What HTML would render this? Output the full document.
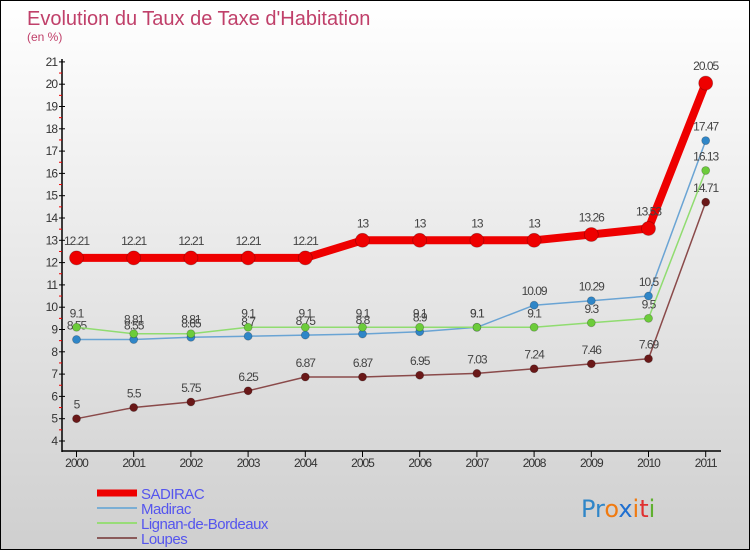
<!DOCTYPE html>
<html><head><meta charset="utf-8"><style>
html,body{margin:0;padding:0}
body{width:750px;height:550px;overflow:hidden;font-family:"Liberation Sans",sans-serif}
#wrap{position:relative;width:748px;height:548px;border:1px solid #000;background:linear-gradient(#ffffff,#cfcfcf)}
svg{position:absolute;left:0;top:0}
</style></head><body>
<div id="wrap">
<svg id="chart" width="750" height="550">
<text x="26" y="24" font-size="20" fill="#c0406a">Evolution du Taux de Taxe d'Habitation</text>
<text x="26" y="40" font-size="12" fill="#c0406a">(en %)</text>
</svg>
</div>
<script>
const years=['2000','2001','2002','2003','2004','2005','2006','2007','2008','2009','2010','2011'];
const sadirac=[12.21,12.21,12.21,12.21,12.21,13,13,13,13,13.26,13.53,20.05];
const madirac=[8.55,8.55,8.65,8.7,8.75,8.8,8.9,9.1,10.09,10.29,10.5,17.47];
const lignan=[9.1,8.81,8.81,9.1,9.1,9.1,9.1,9.1,9.1,9.3,9.5,16.13];
const loupes=[5,5.5,5.75,6.25,6.87,6.87,6.95,7.03,7.24,7.46,7.69,14.71];
const yTicks=[4,5,6,7,8,9,10,11,12,13,14,15,16,17,18,19,20,21];
const NS='http://www.w3.org/2000/svg';
const svg=document.getElementById('chart');
const X=i=>75.5+i*57.2;
const Y=v=>440-(v-4)*22.3;
function mk(t,a,p){const e=document.createElementNS(NS,t);for(const k in a)e.setAttribute(k,a[k]);(p||svg).appendChild(e);return e;}
const ax=mk('g',{});


mk('line',{x1:61,y1:58,x2:61,y2:451,stroke:'#000','stroke-width':1.5},ax);
mk('line',{x1:61,y1:450,x2:720,y2:450,stroke:'#000','stroke-width':1.5},ax);
yTicks.forEach(v=>{
  mk('line',{x1:58,y1:Y(v),x2:64,y2:Y(v),stroke:'#000'},ax);
  if(v<21)mk('line',{x1:58,y1:Y(v+0.5),x2:61,y2:Y(v+0.5),stroke:'#e00'},ax);
  const t=mk('text',{x:56,y:Y(v)+4,'text-anchor':'end','font-size':12,fill:'#333','letter-spacing':'-1'},ax);
  t.textContent=v;
  
  
});
years.forEach((y,i)=>{
  mk('line',{x1:X(i),y1:450,x2:X(i),y2:456,stroke:'#000'},ax);
  const t=mk('text',{x:X(i),y:466,'text-anchor':'middle','font-size':12,fill:'#333','letter-spacing':'-1'},ax);
  t.textContent=y;
  
  
});
function series(name,data,color,dot,w,r){
  const g=mk('g',{});
  
  
  mk('polyline',{points:data.map((v,i)=>X(i)+','+Y(v)).join(' '),fill:'none',stroke:color,'stroke-width':w,'stroke-linejoin':'round'},g);
  data.forEach((v,i)=>{
    const c=mk('circle',{cx:X(i),cy:Y(v),r:r,fill:dot,stroke:'rgba(0,0,0,0.25)','stroke-width':0.8},g);
    
    
    const t=mk('text',{x:X(i),y:Y(v)-(r+6),'text-anchor':'middle','font-size':12,fill:'#444','letter-spacing':'-1'},g);
    t.textContent=v;
    
    
  });
}
series('loupes',loupes,'#8a4a4a','#6a1818',1.5,4);
series('madirac',madirac,'#6aa4d4','#2f86c8',1.5,4);
series('lignan',lignan,'#90dc70','#6ccc3a',1.5,4);
series('sadirac',sadirac,'#ee0000','#ee0000',8,7);
const lg=mk('g',{});


[['SADIRAC','#ee0000',7],['Madirac','#7aaed4',2],['Lignan-de-Bordeaux','#98dc78',2],['Loupes','#8a5a5a',2]].forEach((e,i)=>{
  const y=492+i*15;
  mk('line',{x1:96,y1:y,x2:136,y2:y,stroke:e[1],'stroke-width':e[2]},lg);
  const t=mk('text',{x:140,y:y+6,'font-size':15,fill:'#5555ee','letter-spacing':'-0.5'},lg);
  t.textContent=e[0];
  
  
});
const lo=mk('text',{x:580,y:516,'font-size':24,'font-family':'"DejaVu Sans",sans-serif'});


[['Pr','#2f86c8'],['o','#f07a10'],['x','#1f6fd0'],['i','#f07a10'],['t','#e03030'],['i','#60b030']].forEach(p=>{const s=mk('tspan',{fill:p[1]},lo);s.textContent=p[0];});
</script>
</body></html>
